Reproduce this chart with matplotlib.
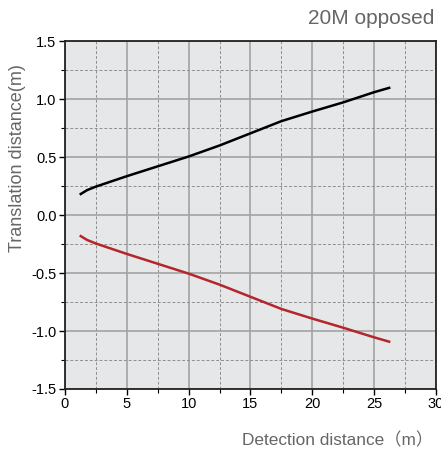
import numpy as np
import matplotlib
matplotlib.use("Agg")
import matplotlib.pyplot as plt
from matplotlib.ticker import MultipleLocator

plt.rcParams['font.family'] = ['Liberation Sans', 'Noto Sans CJK SC', 'DejaVu Sans']

# data
dist = [1.2, 1.8, 2.5, 5.0, 7.5, 10.0, 12.5, 15.0, 17.5, 20.0, 22.5, 25.0, 26.3]
upper = [0.176, 0.215, 0.245, 0.335, 0.42, 0.505, 0.60, 0.705, 0.81, 0.893, 0.972, 1.06, 1.10]
lower = [-0.176, -0.215, -0.245, -0.335, -0.42, -0.505, -0.60, -0.705, -0.81, -0.893, -0.972, -1.055, -1.095]

fig = plt.figure(figsize=(4.41, 4.5), dpi=100)
ax = fig.add_axes([0.147, 0.1356, 0.842, 0.773])
ax.set_facecolor("#e6e7e8")

ax.plot(dist, upper, color="black", lw=1.8, zorder=3, solid_capstyle="butt")
ax.plot(dist, lower, color="#b3262b", lw=1.8, zorder=3, solid_capstyle="butt")

ax.set_xlim(0, 30)
ax.set_ylim(-1.5, 1.5)
ax.xaxis.set_major_locator(MultipleLocator(5))
ax.xaxis.set_minor_locator(MultipleLocator(2.5))
ax.yaxis.set_major_locator(MultipleLocator(0.5))
ax.yaxis.set_minor_locator(MultipleLocator(0.25))
ax.set_yticklabels([f"{v:.1f}" for v in ax.get_yticks()])

ax.grid(which="major", color="#a3a3a3", lw=1.2, ls="-")
ax.grid(which="minor", color="#8f8f8f", lw=0.7, ls=(0, (3, 2)))
ax.set_axisbelow(True)

ax.tick_params(which="major", direction="out", length=4, width=1, labelsize=10.5, pad=2)
ax.tick_params(which="minor", direction="out", length=3, width=0.8)
for s in ax.spines.values():
    s.set_linewidth(1.3)
    s.set_color("#222222")

# axis titles placed by hand, like the reference
fig.text(0.039, 0.648, "Translation distance(m)", rotation=90, ha="center", va="center",
         color="#666666", fontsize=13)
fig.text(0.982, 0.022, "Detection distance（m）", ha="right", va="center",
         color="#666666", fontsize=12.4)
fig.text(0.986, 0.96, "20M opposed", ha="right", va="center", color="#666666", fontsize=15)

fig.savefig("out.png", dpi=100)
